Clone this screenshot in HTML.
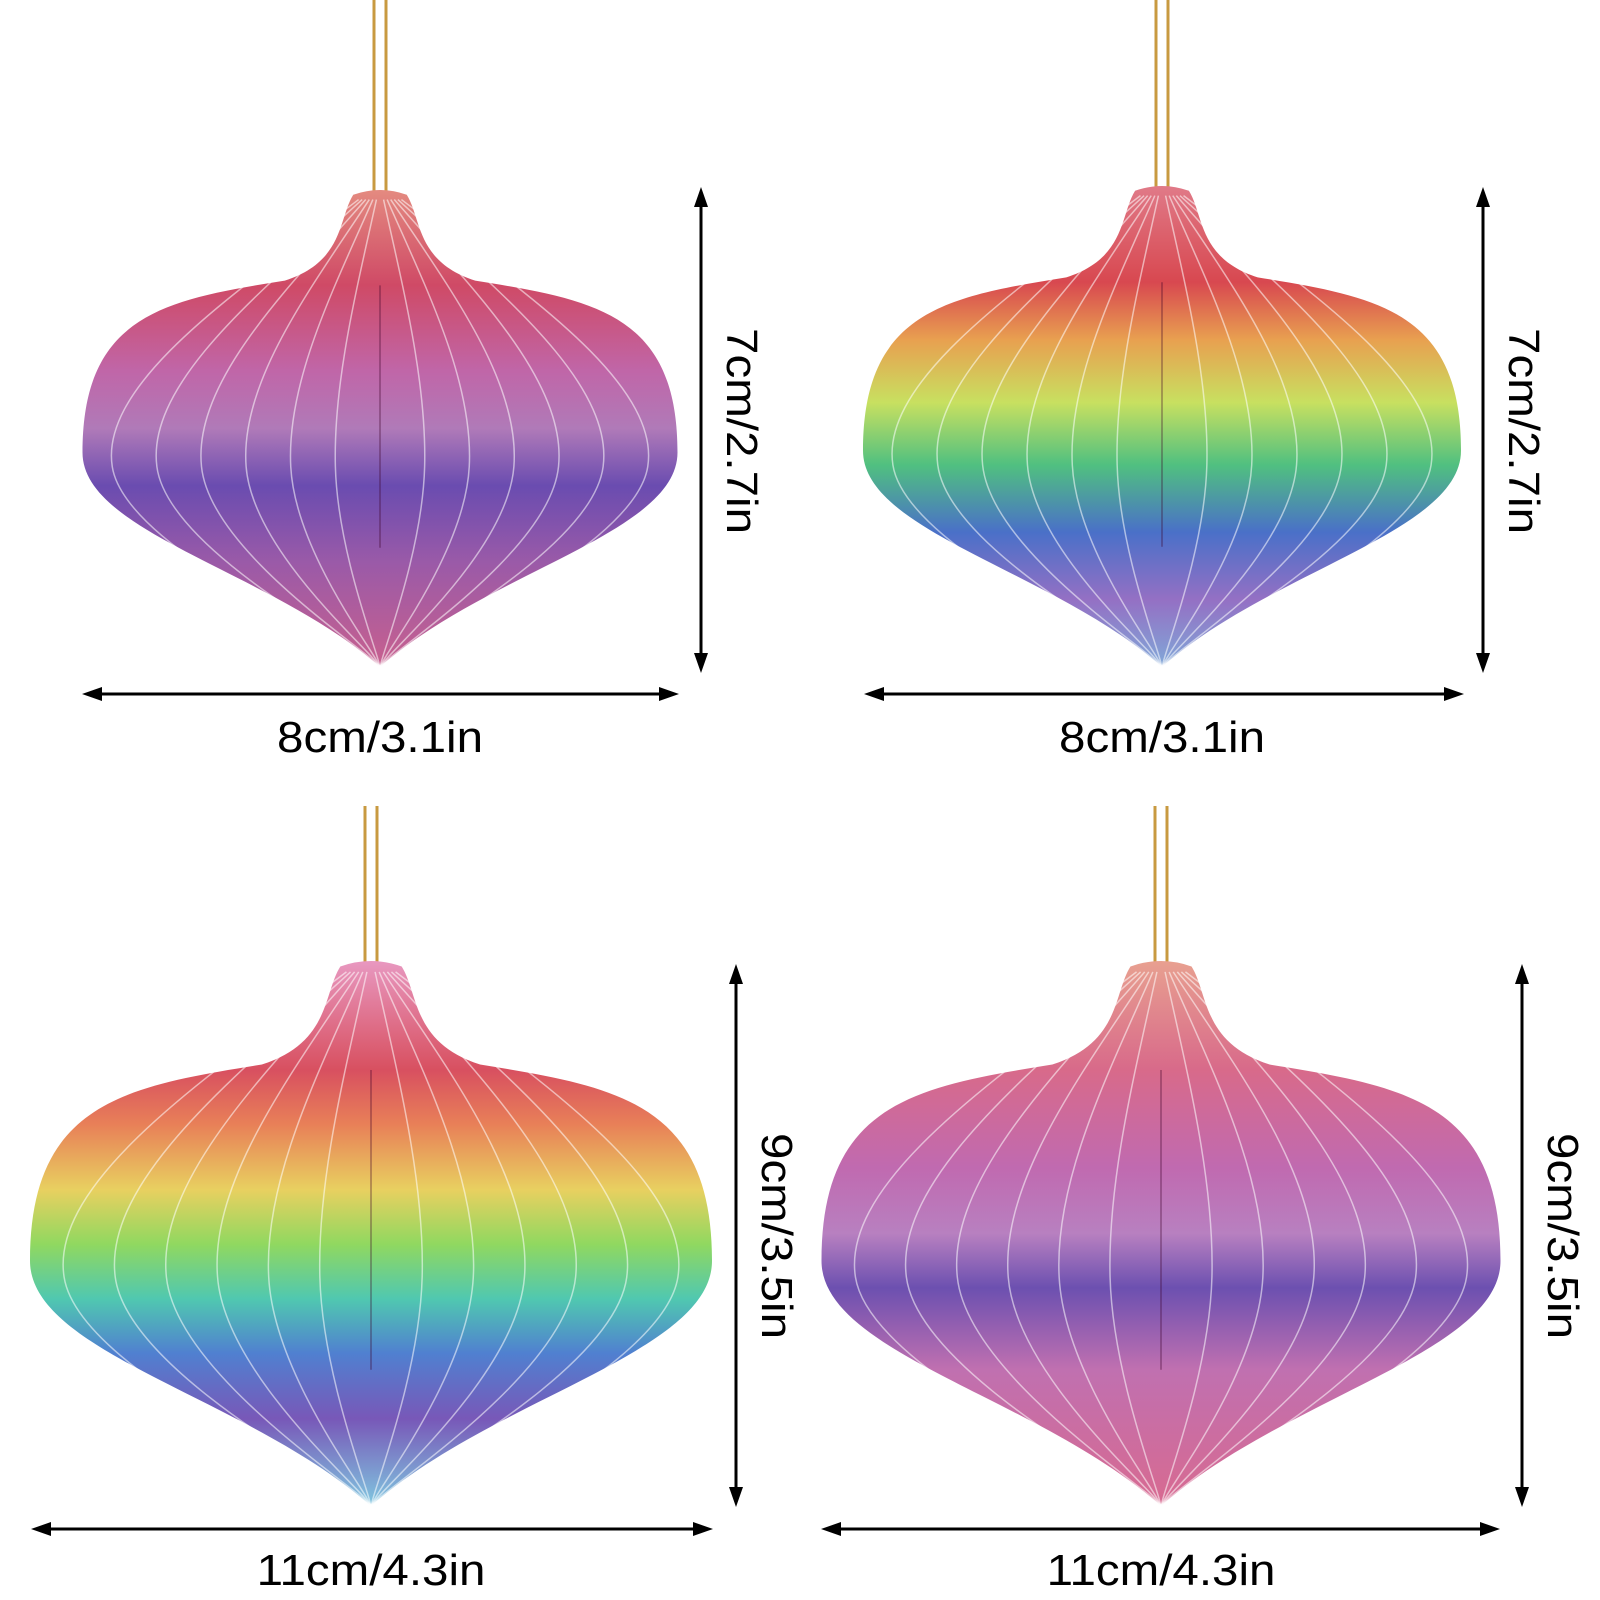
<!DOCTYPE html>
<html><head><meta charset="utf-8"><style>
html,body{margin:0;padding:0;background:#fff;}
svg{display:block}
text{font-family:"Liberation Sans",sans-serif;fill:#000}
</style></head><body>
<svg id="s" width="1600" height="1600" viewBox="0 0 1600 1600" xmlns="http://www.w3.org/2000/svg">
<defs>
<linearGradient id="g1" x1="0" y1="0" x2="0" y2="1">
<stop offset="0" stop-color="#e48a80"/><stop offset="0.2" stop-color="#cf4a66"/><stop offset="0.38" stop-color="#c066a8"/><stop offset="0.5" stop-color="#b07ab8"/><stop offset="0.62" stop-color="#6a4cb0"/><stop offset="0.78" stop-color="#9a5aa8"/><stop offset="1" stop-color="#c8608e"/>
</linearGradient>
<linearGradient id="g2" x1="0" y1="0" x2="0" y2="1">
<stop offset="0" stop-color="#e07a88"/><stop offset="0.2" stop-color="#d84850"/><stop offset="0.32" stop-color="#e8a050"/><stop offset="0.45" stop-color="#c8e060"/><stop offset="0.58" stop-color="#50c080"/><stop offset="0.72" stop-color="#4a70c8"/><stop offset="0.86" stop-color="#9470c4"/><stop offset="1" stop-color="#80a8d8"/>
</linearGradient>
<linearGradient id="g3" x1="0" y1="0" x2="0" y2="1">
<stop offset="0" stop-color="#e898c0"/><stop offset="0.2" stop-color="#d85060"/><stop offset="0.3" stop-color="#e88058"/><stop offset="0.42" stop-color="#e8d060"/><stop offset="0.52" stop-color="#90d860"/><stop offset="0.62" stop-color="#50c8b0"/><stop offset="0.72" stop-color="#5080d0"/><stop offset="0.84" stop-color="#7858b8"/><stop offset="1" stop-color="#80c8e0"/>
</linearGradient>
<linearGradient id="g4" x1="0" y1="0" x2="0" y2="1">
<stop offset="0" stop-color="#e8a090"/><stop offset="0.2" stop-color="#d86a8a"/><stop offset="0.38" stop-color="#c06ab0"/><stop offset="0.5" stop-color="#b880c0"/><stop offset="0.6" stop-color="#6c50b0"/><stop offset="0.75" stop-color="#c070b0"/><stop offset="1" stop-color="#d86a90"/>
</linearGradient>
</defs>
<g id="orn"></g>
<g fill="#000" stroke="#000" stroke-width="3" id="arr"></g>
<g transform="translate(380,752) scale(1.08,1)"><text font-size="44" text-anchor="middle">8cm/3.1in</text></g>
<g transform="translate(1162,752) scale(1.08,1)"><text font-size="44" text-anchor="middle">8cm/3.1in</text></g>
<g transform="translate(371,1585) scale(1.08,1)"><text font-size="44" text-anchor="middle">11cm/4.3in</text></g>
<g transform="translate(1161,1585) scale(1.08,1)"><text font-size="44" text-anchor="middle">11cm/4.3in</text></g>
<text transform="translate(727,431) rotate(90) scale(1.08,1)" font-size="44" text-anchor="middle">7cm/2.7in</text>
<text transform="translate(1509,431) rotate(90) scale(1.08,1)" font-size="44" text-anchor="middle">7cm/2.7in</text>
<text transform="translate(762,1236) rotate(90) scale(1.08,1)" font-size="44" text-anchor="middle">9cm/3.5in</text>
<text transform="translate(1548,1236) rotate(90) scale(1.08,1)" font-size="44" text-anchor="middle">9cm/3.5in</text>
</svg>
<script>
var NS="http://www.w3.org/2000/svg";
function el(p,n,a){var e=document.createElementNS(NS,n);for(var k in a)e.setAttribute(k,a[k]);p.appendChild(e);return e;}
var O=document.getElementById('orn'),A=document.getElementById('arr');
function orn(cx,top,bot,L,R,g,s0){
 var W=R-L,H=bot-top;
 function X(f){return cx+f*W}function Y(f){return top+f*H}
 el(O,'line',{x1:cx-6,y1:s0,x2:cx-6,y2:top+5,stroke:'#c89a40','stroke-width':3});
 el(O,'line',{x1:cx+6,y1:s0,x2:cx+6,y2:top+5,stroke:'#c89a40','stroke-width':3});
 var d='M'+X(-0.045)+','+Y(0.01)+' Q'+cx+','+Y(-0.01)+' '+X(0.045)+','+Y(0.01)+
 ' C'+X(0.07)+','+Y(0.06)+' '+X(0.06)+','+Y(0.15)+' '+X(0.16)+','+Y(0.19)+
 ' C'+X(0.36)+','+Y(0.23)+' '+X(0.5)+','+Y(0.26)+' '+X(0.5)+','+Y(0.55)+
 ' C'+X(0.5)+','+Y(0.72)+' '+X(0.18)+','+Y(0.8)+' '+cx+','+bot+
 ' C'+X(-0.18)+','+Y(0.8)+' '+X(-0.5)+','+Y(0.72)+' '+X(-0.5)+','+Y(0.55)+
 ' C'+X(-0.5)+','+Y(0.26)+' '+X(-0.36)+','+Y(0.23)+' '+X(-0.16)+','+Y(0.19)+
 ' C'+X(-0.06)+','+Y(0.15)+' '+X(-0.07)+','+Y(0.06)+' '+X(-0.045)+','+Y(0.01)+'Z';
 el(O,'path',{d:d,fill:'url(#'+g+')'});
 for(var i=-6;i<=6;i++){if(!i)continue;var f=i/6*0.45;
  var p='M'+X(f*0.08)+','+Y(0.02)+' C'+X(f*0.5)+','+Y(0.2)+' '+X(f*1.05)+','+Y(0.4)+' '+X(f)+','+Y(0.58)+' S'+X(f*0.05)+','+Y(0.97)+' '+cx+','+bot;
  el(O,'path',{d:p,fill:'none',stroke:'rgba(255,255,255,0.55)','stroke-width':1.5});}
 el(O,'line',{x1:cx,y1:Y(0.2),x2:cx,y2:Y(0.75),stroke:'rgba(60,0,40,0.3)','stroke-width':2});
}
orn(380,190,667,82,677,'g1',0);orn(1162,186,667,864,1462,'g2',0);
orn(371,961,1506,31,713,'g3',806);orn(1161,961,1506,821,1500,'g4',806);
function h(x1,x2,y){el(A,'line',{x1:x1+15,y1:y,x2:x2-15,y2:y});
 el(A,'polygon',{points:x1+','+y+' '+(x1+20)+','+(y-7)+' '+(x1+20)+','+(y+7),stroke:'none'});
 el(A,'polygon',{points:x2+','+y+' '+(x2-20)+','+(y-7)+' '+(x2-20)+','+(y+7),stroke:'none'});}
function v(x,y1,y2){el(A,'line',{x1:x,y1:y1+15,x2:x,y2:y2-15});
 el(A,'polygon',{points:x+','+y1+' '+(x-7)+','+(y1+20)+' '+(x+7)+','+(y1+20),stroke:'none'});
 el(A,'polygon',{points:x+','+y2+' '+(x-7)+','+(y2-20)+' '+(x+7)+','+(y2-20),stroke:'none'});}
h(82,679,694);h(864,1464,694);h(31,713,1529);h(821,1500,1529);
v(701,187,673);v(1483,187,673);v(736,964,1507);v(1522,964,1507);
</script>
</body></html>
